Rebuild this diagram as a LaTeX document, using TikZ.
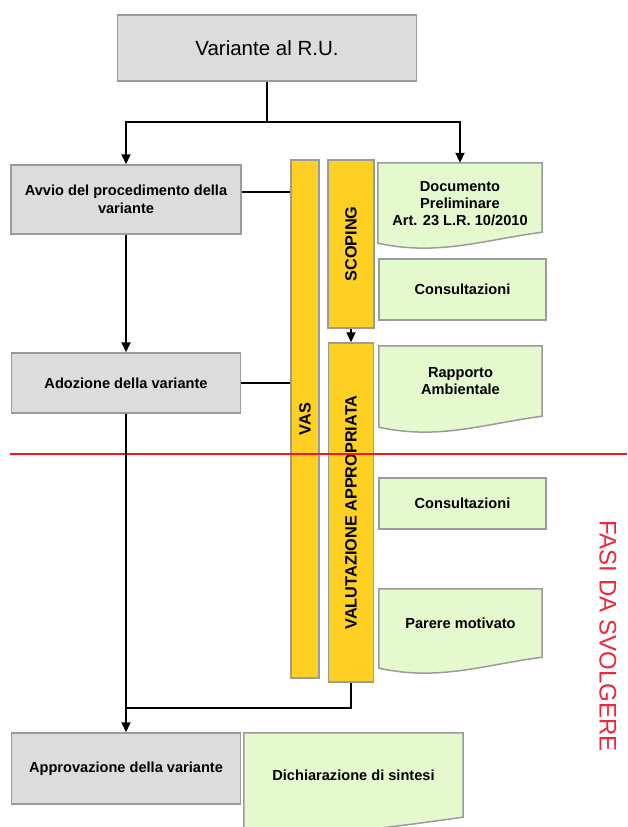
\documentclass[tikz,border=0pt]{standalone}
\usepackage{fontspec}
\setmainfont{Liberation Sans}
\usetikzlibrary{arrows.meta,positioning,backgrounds,calc}
\definecolor{boxgray}{RGB}{220,220,220}
\definecolor{edgegray}{RGB}{155,155,155}
\definecolor{vasyellow}{RGB}{253,208,35}
\definecolor{docgreen}{RGB}{228,249,205}
\definecolor{fasired}{RGB}{238,40,60}
\definecolor{linered}{RGB}{245,20,30}

% outline of a document with a wavy bottom, drawn behind the node
\newcommand{\docoutline}[2][0]{%
  \begin{scope}[on background layer]
    \draw[docline] (#2.north west) -- (#2.north east) -- ($(#2.south east)+(0,-#1)$) coordinate (#2-r)
      .. controls +(-60,8) and +(60,13) .. ($(#2.south west |- #2-r)+(0,11)$) -- cycle;
  \end{scope}}

\begin{document}
\begin{tikzpicture}[
    x=1pt, y=-1pt,
    title/.style={rectangle, draw=edgegray, fill=boxgray, line width=1.5pt, font=\fontsize{20.5}{24}\selectfont},
    phase/.style={rectangle, draw=edgegray, fill=boxgray, line width=1.5pt, align=center, font=\bfseries\fontsize{14.6}{18}\selectfont},
    bar/.style={rectangle, draw=edgegray, fill=vasyellow, line width=1.5pt, inner sep=0pt, font=\bfseries\fontsize{16.3}{19}\selectfont},
    doc/.style={rectangle, align=center, inner sep=0pt, font=\bfseries\fontsize{14.6}{17}\selectfont},
    docline/.style={draw=edgegray, fill=docgreen, line width=1.5pt},
    consult/.style={rectangle, draw=edgegray, fill=docgreen, line width=1.5pt, font=\bfseries\fontsize{14.6}{17}\selectfont},
    link/.style={line width=2pt},
    arrow/.style={-{Triangle[length=10pt,width=9pt]}, line width=2pt}
]
    \useasboundingbox (0,0) rectangle (627,827);

    \node[title, minimum width=299pt, minimum height=66pt] (variante) at (267,48) {Variante al R.U.};
    \node[phase, minimum width=230pt, minimum height=69pt] (avvio) at (126,199.5) {Avvio del procedimento della\\variante};
    \node[phase, minimum width=229pt, minimum height=60pt] (adozione) at (126,383) {Adozione della variante};
    \node[phase, minimum width=229pt, minimum height=71pt] (approvazione) at (126,768.5) {Approvazione della variante};

    \node[bar, minimum width=28pt, minimum height=518pt] (vas) at (305,419) {\rotatebox{90}{VAS}};
    \node[bar, minimum width=46pt, minimum height=168pt] (scoping) at (351,244) {\rotatebox{90}{SCOPING}};
    \node[bar, minimum width=45pt, minimum height=339pt] (valutazione) at (351,512.5) {\rotatebox{90}{VALUTAZIONE APPROPRIATA}};

    \node[doc, minimum width=164pt, minimum height=82pt] (preliminare) at (460,204) {Documento\\Preliminare\\Art. 23 L.R. 10/2010};
    \docoutline[13]{preliminare}
    \node[consult, minimum width=167pt, minimum height=61pt] (consultazioni1) at (462.5,289.5) {Consultazioni};
    \node[doc, minimum width=163pt, minimum height=70pt] (rapporto) at (460.5,381) {Rapporto\\Ambientale};
    \docoutline{rapporto}
    \node[consult, minimum width=167pt, minimum height=51pt] (consultazioni2) at (462.5,503.5) {Consultazioni};
    \node[doc, minimum width=163pt, minimum height=68pt] (parere) at (460.5,623) {Parere motivato};
    \docoutline{parere}
    \node[doc, minimum width=219pt, minimum height=84pt] (sintesi) at (353.5,775) {Dichiarazione di sintesi};
    \docoutline{sintesi}

    % phases still to be carried out
    \draw[draw=linered, line width=2pt] (10,454) -- (627,454);
    \node[text=fasired, rotate=-90, font=\fontsize{24}{28}\selectfont] (fasi) at (608,636) {FASI DA SVOLGERE};

    \draw[arrow] (variante.south) -- ++(0,40) -| (avvio.north);
    \draw[arrow] (variante.south) -- ++(0,40) -| (preliminare.north);
    \draw[arrow] (avvio.south) -- (adozione.north);
    \draw[arrow] (adozione.south) -- (approvazione.north);
    \draw[arrow] (scoping.south) -- (valutazione.north);
    \draw[link] ([yshift=7.5pt]avvio.east) -- ([yshift=7.5pt]avvio.east -| vas.west);
    \draw[link] (adozione.east) -- (adozione.east -| vas.west);
    \coordinate (merge) at ($(valutazione.south)+(0,25.5)$);
    \draw[link] (valutazione.south) -- (merge) -- (merge -| adozione.south);
\end{tikzpicture}
\end{document}
